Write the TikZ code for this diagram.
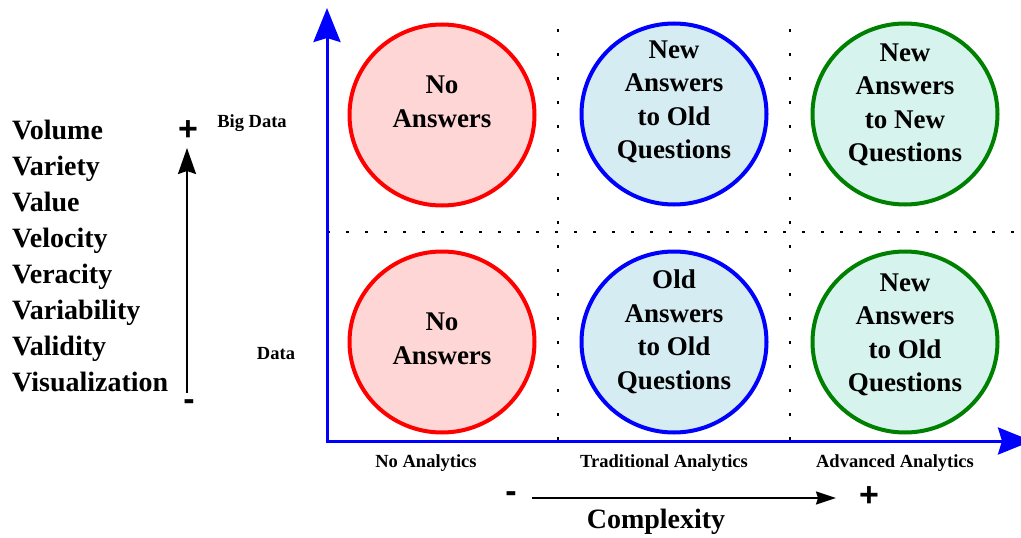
\documentclass[tikz,border=0pt]{standalone}
\usepackage{fontspec}
\setmainfont{Liberation Serif}[BoldFont={Liberation Serif Bold}]
\newfontfamily\signfont{Liberation Sans}[BoldFont={Liberation Sans Bold}]
\usetikzlibrary{arrows.meta,shapes.geometric}
\definecolor{redfill}{RGB}{255,214,214}
\definecolor{bluefill}{RGB}{214,236,243}
\definecolor{greenfill}{RGB}{214,243,237}
\definecolor{darkgreen}{RGB}{0,128,0}
\begin{document}
\begin{tikzpicture}[x=1pt,y=-1pt,
  bubble/.style={ellipse, line width=4pt, minimum width=185pt, minimum height=181pt, inner sep=0pt},
  redbubble/.style={bubble, draw=red, fill=redfill},
  bluebubble/.style={bubble, draw=blue, fill=bluefill},
  greenbubble/.style={bubble, draw=darkgreen, fill=greenfill},
  bubbletext/.style={align=center, inner sep=0pt, font=\bfseries\fontsize{27}{33.5}\selectfont},
  vword/.style={anchor=base west, inner sep=0pt, font=\bfseries\fontsize{28}{34}\selectfont},
  smalllabel/.style={inner sep=0pt, font=\bfseries\fontsize{18.5}{22}\selectfont},
  sign/.style={inner sep=0pt, font=\signfont\bfseries\fontsize{34}{38}\selectfont},
  axis/.style={draw=blue, line width=3pt, -{Stealth[length=34pt,width=27pt,inset=4pt]}},
  hdots/.style={line width=2.5pt, dash pattern=on 2.5pt off 16.5pt},
  vdots/.style={line width=2.5pt, dash pattern=on 2.5pt off 21.5pt},
]
\useasboundingbox (0,0) rectangle (1021,538);
\clip (0,0) rectangle (1021,538);

% dotted grid
\coordinate (h1) at (327,232);
\coordinate (h2) at (1021,232);
\coordinate (v1a) at (558,29);
\coordinate (v1b) at (558,442);
\coordinate (v2a) at (790,29);
\coordinate (v2b) at (790,442);
\draw[hdots] (h1) -- (h2);
\draw[vdots] (v1a) -- (v1b);
\draw[vdots] (v2a) -- (v2b);

% axes
\coordinate (O) at (327,441);
\coordinate (ytip) at (327,8);
\coordinate (xtip) at (1032,441);
\coordinate (Ox) at (325.5,441);
\draw[axis] (O) -- (ytip);
\draw[axis] (Ox) -- (xtip);

% bubbles
\node[redbubble] (c11) at (442,115) {};
\node[bluebubble] (c12) at (674,114) {};
\node[greenbubble] (c13) at (905,114) {};
\node[redbubble] (c21) at (442,342) {};
\node[bluebubble] (c22) at (674,342) {};
\node[greenbubble] (c23) at (905,342) {};

\node[bubbletext] (t11) at (442,102) {No\\Answers};
\node[bubbletext] (t12) at (674,102) {New\\Answers\\to Old\\Questions};
\node[bubbletext] (t13) at (905,105) {New\\Answers\\to New\\Questions};
\node[bubbletext] (t21) at (442,339) {No\\Answers};
\node[bubbletext] (t22) at (674,332) {Old\\Answers\\to Old\\Questions};
\node[bubbletext] (t23) at (905,335) {New\\Answers\\to Old\\Questions};

% row labels
\node[smalllabel] (bigdata) at (252,123) {Big Data};
\node[smalllabel] (data) at (276,354) {Data};

% column labels
\node[smalllabel] (noan) at (426,463) {No Analytics};
\node[smalllabel] (tradan) at (664,463) {Traditional Analytics};
\node[smalllabel] (advan) at (895,463) {Advanced Analytics};

% V list
\node[vword] (w1) at (12,139.5) {Volume};
\node[vword] (w2) at (12,175.5) {Variety};
\node[vword] (w3) at (12,211.5) {Value};
\node[vword] (w4) at (12,247.5) {Velocity};
\node[vword] (w5) at (12,283.5) {Veracity};
\node[vword] (w6) at (12,319.5) {Variability};
\node[vword] (w7) at (12,355.5) {Validity};
\node[vword] (w8) at (12,391.5) {Visualization};

% vertical scale arrow
\node[sign] (vplus) at (188,131) {+};
\node[sign] (vminus) at (189,405) {-};
\coordinate (va) at (187,393);
\coordinate (vb) at (187,148);
\draw[line width=2pt, -{Stealth[length=26pt,width=18pt,inset=3pt]}] (va) -- (vb);

% complexity arrow
\node[sign] (hminus) at (511,497) {-};
\node[sign] (hplus) at (869,497) {+};
\coordinate (ha) at (532,498);
\coordinate (hb) at (836,498);
\draw[line width=1.5pt, -{Stealth[length=20pt,width=13pt,inset=2pt]}] (ha) -- (hb);
\node[inner sep=0pt, font=\bfseries\fontsize{28}{34}\selectfont] (complexity) at (656,522) {Complexity};
\end{tikzpicture}
\end{document}
